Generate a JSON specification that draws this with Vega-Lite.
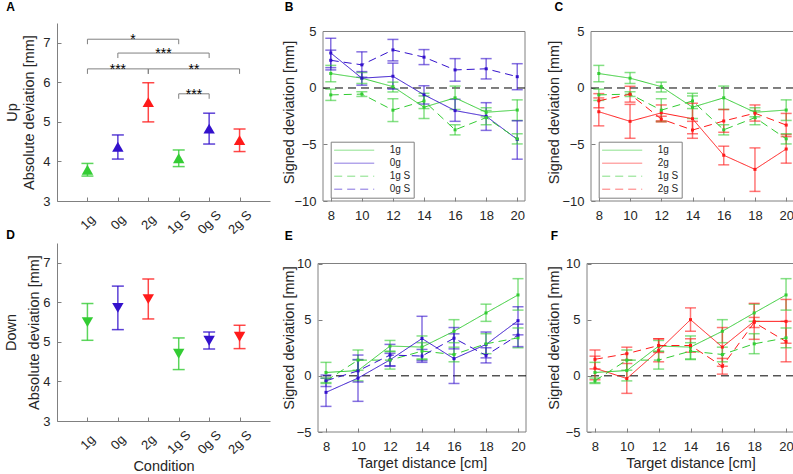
{
"$schema": "https://vega.github.io/schema/vega-lite/v6.json",
"padding": {"left": 2, "top": 0, "right": 0, "bottom": 0},
"config": {
  "font": "Liberation Sans",
  "view": {"stroke": null},
  "axis": {"grid": false, "labelFontSize": 13, "titleFontSize": 14.5, "titleFontWeight": "normal", "labelColor": "#262626", "titleColor": "#262626", "domainColor": "#808080", "tickColor": "#808080", "tickSize": -4, "labelFlush": false, "labelOverlap": false, "labelBound": false, "labelPadding": 12.5},
  "axisY": {"labelPadding": 11},
  "title": {"fontSize": 12, "fontWeight": "bold", "anchor": "start", "frame": "group", "baseline": "alphabetic", "color": "#000000"}
},
"datasets": {
  "abs": [
    {"dir":"Up","cond":"1g","idx":1,"mean":3.79,"lo":3.63,"hi":3.95},
    {"dir":"Up","cond":"0g","idx":2,"mean":4.37,"lo":4.06,"hi":4.67},
    {"dir":"Up","cond":"2g","idx":3,"mean":5.5,"lo":5.0,"hi":5.99},
    {"dir":"Up","cond":"1g S","idx":4,"mean":4.08,"lo":3.87,"hi":4.29},
    {"dir":"Up","cond":"0g S","idx":5,"mean":4.83,"lo":4.44,"hi":5.22},
    {"dir":"Up","cond":"2g S","idx":6,"mean":4.54,"lo":4.25,"hi":4.82},
    {"dir":"Down","cond":"1g","idx":1,"mean":5.5,"lo":5.04,"hi":5.97},
    {"dir":"Down","cond":"0g","idx":2,"mean":5.86,"lo":5.31,"hi":6.41},
    {"dir":"Down","cond":"2g","idx":3,"mean":6.08,"lo":5.58,"hi":6.59},
    {"dir":"Down","cond":"1g S","idx":4,"mean":4.7,"lo":4.3,"hi":5.1},
    {"dir":"Down","cond":"0g S","idx":5,"mean":5.03,"lo":4.82,"hi":5.25},
    {"dir":"Down","cond":"2g S","idx":6,"mean":5.13,"lo":4.83,"hi":5.42}
  ],
  "sig": [
    {"from":1,"to":4,"level":7.09,"stars":"*"},
    {"from":2,"to":5,"level":6.74,"stars":"***"},
    {"from":1,"to":3,"level":6.34,"stars":"***"},
    {"from":3,"to":6,"level":6.34,"stars":"**"},
    {"from":4,"to":5,"level":5.71,"stars":"***"}
  ],
  "signed": [
    {"dir":"Up","cond":"1g","dist":8,"mean":1.28,"lo":0.55,"hi":2.0},
    {"dir":"Up","cond":"1g","dist":10,"mean":0.87,"lo":0.4,"hi":1.37},
    {"dir":"Up","cond":"1g","dist":12,"mean":0.12,"lo":-0.35,"hi":0.52},
    {"dir":"Up","cond":"1g","dist":14,"mean":-1.7,"lo":-2.7,"hi":-0.7},
    {"dir":"Up","cond":"1g","dist":16,"mean":-0.87,"lo":-1.9,"hi":0.17},
    {"dir":"Up","cond":"1g","dist":18,"mean":-2.15,"lo":-2.55,"hi":-1.75},
    {"dir":"Up","cond":"1g","dist":20,"mean":-1.95,"lo":-2.87,"hi":-1.05},
    {"dir":"Up","cond":"0g","dist":8,"mean":3.1,"lo":1.8,"hi":4.4},
    {"dir":"Up","cond":"0g","dist":10,"mean":0.87,"lo":0.25,"hi":1.45},
    {"dir":"Up","cond":"0g","dist":12,"mean":1.04,"lo":-0.1,"hi":2.2},
    {"dir":"Up","cond":"0g","dist":14,"mean":-0.6,"lo":-1.42,"hi":0.2},
    {"dir":"Up","cond":"0g","dist":16,"mean":-2.0,"lo":-2.95,"hi":-1.0},
    {"dir":"Up","cond":"0g","dist":18,"mean":-2.5,"lo":-3.75,"hi":-1.3},
    {"dir":"Up","cond":"0g","dist":20,"mean":-4.55,"lo":-6.3,"hi":-2.9},
    {"dir":"Up","cond":"2g","dist":8,"mean":-2.1,"lo":-3.35,"hi":-0.88},
    {"dir":"Up","cond":"2g","dist":10,"mean":-2.95,"lo":-4.45,"hi":-1.45},
    {"dir":"Up","cond":"2g","dist":12,"mean":-2.2,"lo":-2.9,"hi":-1.5},
    {"dir":"Up","cond":"2g","dist":14,"mean":-2.72,"lo":-4.05,"hi":-1.35},
    {"dir":"Up","cond":"2g","dist":16,"mean":-5.95,"lo":-6.8,"hi":-5.15},
    {"dir":"Up","cond":"2g","dist":18,"mean":-7.2,"lo":-9.15,"hi":-5.3},
    {"dir":"Up","cond":"2g","dist":20,"mean":-5.4,"lo":-6.65,"hi":-4.12},
    {"dir":"Up","cond":"1g S","dist":8,"mean":-0.61,"lo":-1.1,"hi":-0.1},
    {"dir":"Up","cond":"1g S","dist":10,"mean":-0.54,"lo":-0.75,"hi":-0.33},
    {"dir":"Up","cond":"1g S","dist":12,"mean":-1.96,"lo":-2.97,"hi":-0.95},
    {"dir":"Up","cond":"1g S","dist":14,"mean":-1.15,"lo":-1.82,"hi":-0.47},
    {"dir":"Up","cond":"1g S","dist":16,"mean":-3.7,"lo":-4.15,"hi":-3.25},
    {"dir":"Up","cond":"1g S","dist":18,"mean":-2.62,"lo":-3.25,"hi":-2.0},
    {"dir":"Up","cond":"1g S","dist":20,"mean":-4.5,"lo":-4.95,"hi":-4.05},
    {"dir":"Up","cond":"0g S","dist":8,"mean":2.45,"lo":1.6,"hi":3.35},
    {"dir":"Up","cond":"0g S","dist":10,"mean":2.05,"lo":0.95,"hi":3.2},
    {"dir":"Up","cond":"0g S","dist":12,"mean":3.37,"lo":2.4,"hi":4.3},
    {"dir":"Up","cond":"0g S","dist":14,"mean":2.73,"lo":2.07,"hi":3.4},
    {"dir":"Up","cond":"0g S","dist":16,"mean":1.6,"lo":0.6,"hi":2.6},
    {"dir":"Up","cond":"0g S","dist":18,"mean":1.7,"lo":0.8,"hi":2.6},
    {"dir":"Up","cond":"0g S","dist":20,"mean":1.0,"lo":-0.15,"hi":2.15},
    {"dir":"Up","cond":"2g S","dist":8,"mean":-1.13,"lo":-1.75,"hi":-0.5},
    {"dir":"Up","cond":"2g S","dist":10,"mean":-0.55,"lo":-1.25,"hi":0.15},
    {"dir":"Up","cond":"2g S","dist":12,"mean":-2.75,"lo":-3.0,"hi":-2.5},
    {"dir":"Up","cond":"2g S","dist":14,"mean":-3.72,"lo":-4.45,"hi":-2.95},
    {"dir":"Up","cond":"2g S","dist":16,"mean":-2.92,"lo":-3.92,"hi":-1.9},
    {"dir":"Up","cond":"2g S","dist":18,"mean":-2.23,"lo":-2.93,"hi":-1.5},
    {"dir":"Up","cond":"2g S","dist":20,"mean":-3.28,"lo":-4.3,"hi":-2.25},
    {"dir":"Down","cond":"1g","dist":8,"mean":0.3,"lo":-0.6,"hi":1.2},
    {"dir":"Down","cond":"1g","dist":10,"mean":0.47,"lo":-0.45,"hi":1.4},
    {"dir":"Down","cond":"1g","dist":12,"mean":2.65,"lo":2.15,"hi":3.15},
    {"dir":"Down","cond":"1g","dist":14,"mean":2.56,"lo":1.5,"hi":3.55},
    {"dir":"Down","cond":"1g","dist":16,"mean":3.97,"lo":2.95,"hi":5.0},
    {"dir":"Down","cond":"1g","dist":18,"mean":5.6,"lo":4.85,"hi":6.38},
    {"dir":"Down","cond":"1g","dist":20,"mean":7.2,"lo":5.85,"hi":8.65},
    {"dir":"Down","cond":"0g","dist":8,"mean":-1.47,"lo":-2.72,"hi":-0.22},
    {"dir":"Down","cond":"0g","dist":10,"mean":-0.2,"lo":-2.27,"hi":1.85},
    {"dir":"Down","cond":"0g","dist":12,"mean":1.42,"lo":0.85,"hi":2.0},
    {"dir":"Down","cond":"0g","dist":14,"mean":3.32,"lo":1.35,"hi":5.3},
    {"dir":"Down","cond":"0g","dist":16,"mean":1.53,"lo":-0.68,"hi":3.74},
    {"dir":"Down","cond":"0g","dist":18,"mean":2.79,"lo":1.6,"hi":3.9},
    {"dir":"Down","cond":"0g","dist":20,"mean":4.91,"lo":3.65,"hi":6.15},
    {"dir":"Down","cond":"2g","dist":8,"mean":0.68,"lo":-0.35,"hi":1.75},
    {"dir":"Down","cond":"2g","dist":10,"mean":-0.24,"lo":-1.56,"hi":1.1},
    {"dir":"Down","cond":"2g","dist":12,"mean":2.26,"lo":1.25,"hi":3.3},
    {"dir":"Down","cond":"2g","dist":14,"mean":5.0,"lo":3.97,"hi":6.05},
    {"dir":"Down","cond":"2g","dist":16,"mean":2.56,"lo":0.85,"hi":4.3},
    {"dir":"Down","cond":"2g","dist":18,"mean":4.85,"lo":3.25,"hi":6.45},
    {"dir":"Down","cond":"2g","dist":20,"mean":4.85,"lo":2.9,"hi":6.8},
    {"dir":"Down","cond":"1g S","dist":8,"mean":-0.44,"lo":-0.68,"hi":-0.2},
    {"dir":"Down","cond":"1g S","dist":10,"mean":1.4,"lo":0.5,"hi":2.3},
    {"dir":"Down","cond":"1g S","dist":12,"mean":1.4,"lo":0.6,"hi":2.2},
    {"dir":"Down","cond":"1g S","dist":14,"mean":2.2,"lo":1.45,"hi":2.95},
    {"dir":"Down","cond":"1g S","dist":16,"mean":1.9,"lo":1.25,"hi":2.55},
    {"dir":"Down","cond":"1g S","dist":18,"mean":2.85,"lo":1.97,"hi":3.75},
    {"dir":"Down","cond":"1g S","dist":20,"mean":3.38,"lo":2.5,"hi":4.26},
    {"dir":"Down","cond":"0g S","dist":8,"mean":-0.44,"lo":-0.95,"hi":0.07},
    {"dir":"Down","cond":"0g S","dist":10,"mean":0.44,"lo":-0.55,"hi":1.45},
    {"dir":"Down","cond":"0g S","dist":12,"mean":1.85,"lo":0.9,"hi":2.8},
    {"dir":"Down","cond":"0g S","dist":14,"mean":1.76,"lo":1.2,"hi":2.35},
    {"dir":"Down","cond":"0g S","dist":16,"mean":3.35,"lo":2.4,"hi":4.3},
    {"dir":"Down","cond":"0g S","dist":18,"mean":1.82,"lo":1.15,"hi":2.5},
    {"dir":"Down","cond":"0g S","dist":20,"mean":3.62,"lo":2.6,"hi":4.6},
    {"dir":"Down","cond":"2g S","dist":8,"mean":1.47,"lo":0.62,"hi":2.3},
    {"dir":"Down","cond":"2g S","dist":10,"mean":1.97,"lo":1.4,"hi":2.55},
    {"dir":"Down","cond":"2g S","dist":12,"mean":2.7,"lo":2.08,"hi":3.3},
    {"dir":"Down","cond":"2g S","dist":14,"mean":2.7,"lo":2.1,"hi":3.3},
    {"dir":"Down","cond":"2g S","dist":16,"mean":0.85,"lo":0.15,"hi":1.55},
    {"dir":"Down","cond":"2g S","dist":18,"mean":4.75,"lo":4.3,"hi":5.2},
    {"dir":"Down","cond":"2g S","dist":20,"mean":3.05,"lo":1.25,"hi":4.85}
  ]
},
"vconcat": [
 {"hconcat": [
  {
   "title": {"text": "A", "dx": -50.7, "offset": 8.8},
   "width": 213, "height": 178,
   "layer": [
    {"data": {"name": "abs"}, "transform": [{"filter": {"field": "dir", "equal": "Up"}}],
     "encoding": {
        "x": {"field": "idx", "type": "quantitative", "scale": {"domain": [0, 7], "nice": false, "zero": false}, "axis": {"values": [1,2,3,4,5,6], "labelExpr": "['','1g','0g','2g','1g S','0g S','2g S'][datum.value]", "labelAngle": -45, "labelAlign": "center", "labelBaseline": "middle", "labelPadding": 25, "labelOverlap": false, "title": null}},
        "color": {"field": "cond", "type": "nominal", "scale": {"domain": ["1g","0g","2g","1g S","0g S","2g S"], "range": ["#33cc33","#3311cc","#ff1a1a","#33cc33","#3311cc","#ff1a1a"]}, "legend": null}},
     "layer": [
      {"mark": {"type": "rule", "strokeWidth": 1.5, "opacity": 0.8},
       "encoding": {
        "y": {"field": "lo", "type": "quantitative", "scale": {"domain": [3, 7.5], "nice": false, "zero": false}, "axis": {"values": [3,4,5,6,7], "labelOverlap": false, "title": ["Up", "Absolute deviation [mm]"], "titleX": -38, "titleLineHeight": 17.3}},
        "y2": {"field": "hi"}}},
      {"mark": {"type": "tick", "orient": "horizontal", "size": 12, "thickness": 1.5, "opacity": 0.8},
       "encoding": {"y": {"field": "lo", "type": "quantitative"}}},
      {"mark": {"type": "tick", "orient": "horizontal", "size": 12, "thickness": 1.5, "opacity": 0.8},
       "encoding": {"y": {"field": "hi", "type": "quantitative"}}},
      {"mark": {"type": "point", "shape": "triangle-up", "size": 130, "filled": true, "opacity": 1},
       "encoding": {"y": {"field": "mean", "type": "quantitative"}}}
     ]},
    {"data": {"name": "sig"},
     "layer": [
      {"mark": {"type": "rule", "color": "#808080", "strokeWidth": 1},
       "encoding": {"x": {"field": "from", "type": "quantitative"}, "x2": {"field": "to"}, "y": {"field": "level", "type": "quantitative"}}},
      {"mark": {"type": "rule", "color": "#808080", "strokeWidth": 1, "y2Offset": 5},
       "encoding": {"x": {"field": "from", "type": "quantitative"}, "y": {"field": "level", "type": "quantitative"}, "y2": {"field": "level"}}},
      {"mark": {"type": "rule", "color": "#808080", "strokeWidth": 1, "y2Offset": 5},
       "encoding": {"x": {"field": "to", "type": "quantitative"}, "y": {"field": "level", "type": "quantitative"}, "y2": {"field": "level"}}},
      {"transform": [{"calculate": "(datum.from + datum.to) / 2", "as": "mid"}],
       "mark": {"type": "text", "fontSize": 14, "baseline": "alphabetic", "dy": 5, "color": "#000000"},
       "encoding": {"x": {"field": "mid", "type": "quantitative"}, "y": {"field": "level", "type": "quantitative"}, "text": {"field": "stars"}}}
     ]}
   ]
  },
  {"hconcat": [
   {
    "title": {"text": "B", "dx": -38.3, "offset": 9.0},
    "width": 202, "height": 178,
    "layer": [
     {"data": {"values": [{}]}, "mark": {"type": "rect", "fillOpacity": 0, "stroke": "#808080", "strokeWidth": 1},
      "encoding": {
       "x": {"datum": 7.5, "type": "quantitative", "scale": {"domain": [7.5, 20.5], "nice": false, "zero": false}, "axis": {"values": [8,10,12,14,16,18,20], "labelOverlap": false, "domain": false, "title": null}},
       "x2": {"datum": 20.5},
       "y": {"datum": -10, "type": "quantitative", "scale": {"domain": [-10, 5.752], "nice": false, "zero": false}, "axis": {"values": [-10,-5,0,5], "labelOverlap": false, "domain": false, "title": "Signed deviation [mm]", "titleX": -26.7}},
       "y2": {"datum": 5}}},
     {"data": {"values": [{}]}, "mark": {"type": "rule", "color": "#000000", "strokeDash": [8, 5], "strokeWidth": 1},
      "encoding": {"y": {"datum": 0, "type": "quantitative", "axis": {"values": [-10,-5,0,5], "labelOverlap": false, "domain": false, "title": "Signed deviation [mm]", "titleX": -26.7}}}},
     {"data": {"name": "signed"}, "transform": [{"filter": {"field": "dir", "equal": "Up"}}, {"filter": {"field": "cond", "oneOf": ["1g","0g","1g S","0g S"]}}],
      "encoding": {
        "x": {"field": "dist", "type": "quantitative", "scale": {"domain": [7.5, 20.5], "nice": false, "zero": false}, "axis": {"values": [8,10,12,14,16,18,20], "labelOverlap": false, "domain": false, "title": null}},
        "color": {"field": "cond", "type": "nominal", "scale": {"domain": ["1g","0g","1g S","0g S"], "range": ["#33cc33","#3311cc","#33cc33","#3311cc"]},
          "legend": {"orient": "none", "legendX": 7.7, "legendY": 118.7, "title": null, "symbolType": "M-4,0H4", "symbolSize": 100, "symbolOffset": 15, "labelOffset": 30, "symbolStrokeWidth": 1, "labelFontSize": 10, "labelColor": "#262626", "padding": 3, "strokeColor": "#808080", "fillColor": "#ffffff", "rowPadding": 2}}},
      "layer": [
       {"mark": {"type": "rule", "strokeWidth": 1.5, "opacity": 0.6},
        "encoding": {"y": {"field": "lo", "type": "quantitative", "scale": {"domain": [-10, 5.752], "nice": false, "zero": false}, "axis": {"values": [-10,-5,0,5], "labelOverlap": false, "domain": false, "title": "Signed deviation [mm]", "titleX": -26.7}}, "y2": {"field": "hi"}}},
       {"mark": {"type": "tick", "orient": "horizontal", "size": 11, "thickness": 1.5, "opacity": 0.6},
        "encoding": {"y": {"field": "lo", "type": "quantitative", "axis": {"values": [-10,-5,0,5], "labelOverlap": false, "domain": false, "title": "Signed deviation [mm]", "titleX": -26.7}}}},
       {"mark": {"type": "tick", "orient": "horizontal", "size": 11, "thickness": 1.5, "opacity": 0.6},
        "encoding": {"y": {"field": "hi", "type": "quantitative", "axis": {"values": [-10,-5,0,5], "labelOverlap": false, "domain": false, "title": "Signed deviation [mm]", "titleX": -26.7}}}},
       {"mark": {"type": "line", "strokeWidth": 1},
        "encoding": {
         "y": {"field": "mean", "type": "quantitative", "axis": {"values": [-10,-5,0,5], "labelOverlap": false, "domain": false, "title": "Signed deviation [mm]", "titleX": -26.7}},
         "strokeDash": {"field": "cond", "type": "nominal", "scale": {"domain": ["1g","0g","1g S","0g S"], "range": [[1,0],[1,0],[8,5],[8,5]]},
          "legend": {"orient": "none", "legendX": 7.7, "legendY": 118.7, "title": null, "symbolType": "M-4,0H4", "symbolSize": 100, "symbolOffset": 15, "labelOffset": 30, "symbolStrokeWidth": 1, "labelFontSize": 10, "labelColor": "#262626", "padding": 3, "strokeColor": "#808080", "fillColor": "#ffffff", "rowPadding": 2}}}},
       {"mark": {"type": "point", "shape": "square", "size": 9, "filled": true, "opacity": 1},
        "encoding": {"y": {"field": "mean", "type": "quantitative", "axis": {"values": [-10,-5,0,5], "labelOverlap": false, "domain": false, "title": "Signed deviation [mm]", "titleX": -26.7}}}}
      ]}
    ]
   },
   {
    "title": {"text": "C", "dx": -36.6, "offset": 9.3},
    "width": 203, "height": 178,
    "layer": [
     {"data": {"values": [{}]}, "mark": {"type": "rect", "fillOpacity": 0, "stroke": "#808080", "strokeWidth": 1},
      "encoding": {
       "x": {"datum": 7.5, "type": "quantitative", "scale": {"domain": [7.5, 20.5], "nice": false, "zero": false}, "axis": {"values": [8,10,12,14,16,18,20], "labelOverlap": false, "domain": false, "title": null}},
       "x2": {"datum": 20.5},
       "y": {"datum": -10, "type": "quantitative", "scale": {"domain": [-10, 5.752], "nice": false, "zero": false}, "axis": {"values": [-10,-5,0,5], "labelOverlap": false, "domain": false, "title": "Signed deviation [mm]", "titleX": -29.3}},
       "y2": {"datum": 5}}},
     {"data": {"values": [{}]}, "mark": {"type": "rule", "color": "#000000", "strokeDash": [8, 5], "strokeWidth": 1},
      "encoding": {"y": {"datum": 0, "type": "quantitative", "axis": {"values": [-10,-5,0,5], "labelOverlap": false, "domain": false, "title": "Signed deviation [mm]", "titleX": -29.3}}}},
     {"data": {"name": "signed"}, "transform": [{"filter": {"field": "dir", "equal": "Up"}}, {"filter": {"field": "cond", "oneOf": ["1g","2g","1g S","2g S"]}}],
      "encoding": {
        "x": {"field": "dist", "type": "quantitative", "scale": {"domain": [7.5, 20.5], "nice": false, "zero": false}, "axis": {"values": [8,10,12,14,16,18,20], "labelOverlap": false, "domain": false, "title": null}},
        "color": {"field": "cond", "type": "nominal", "scale": {"domain": ["1g","2g","1g S","2g S"], "range": ["#33cc33","#ff1a1a","#33cc33","#ff1a1a"]},
          "legend": {"orient": "none", "legendX": 7.7, "legendY": 118.7, "title": null, "symbolType": "M-4,0H4", "symbolSize": 100, "symbolOffset": 15, "labelOffset": 30, "symbolStrokeWidth": 1, "labelFontSize": 10, "labelColor": "#262626", "padding": 3, "strokeColor": "#808080", "fillColor": "#ffffff", "rowPadding": 2}}},
      "layer": [
       {"mark": {"type": "rule", "strokeWidth": 1.5, "opacity": 0.6},
        "encoding": {"y": {"field": "lo", "type": "quantitative", "scale": {"domain": [-10, 5.752], "nice": false, "zero": false}, "axis": {"values": [-10,-5,0,5], "labelOverlap": false, "domain": false, "title": "Signed deviation [mm]", "titleX": -29.3}}, "y2": {"field": "hi"}}},
       {"mark": {"type": "tick", "orient": "horizontal", "size": 11, "thickness": 1.5, "opacity": 0.6},
        "encoding": {"y": {"field": "lo", "type": "quantitative", "axis": {"values": [-10,-5,0,5], "labelOverlap": false, "domain": false, "title": "Signed deviation [mm]", "titleX": -29.3}}}},
       {"mark": {"type": "tick", "orient": "horizontal", "size": 11, "thickness": 1.5, "opacity": 0.6},
        "encoding": {"y": {"field": "hi", "type": "quantitative", "axis": {"values": [-10,-5,0,5], "labelOverlap": false, "domain": false, "title": "Signed deviation [mm]", "titleX": -29.3}}}},
       {"mark": {"type": "line", "strokeWidth": 1},
        "encoding": {
         "y": {"field": "mean", "type": "quantitative", "axis": {"values": [-10,-5,0,5], "labelOverlap": false, "domain": false, "title": "Signed deviation [mm]", "titleX": -29.3}},
         "strokeDash": {"field": "cond", "type": "nominal", "scale": {"domain": ["1g","2g","1g S","2g S"], "range": [[1,0],[1,0],[8,5],[8,5]]},
          "legend": {"orient": "none", "legendX": 7.7, "legendY": 118.7, "title": null, "symbolType": "M-4,0H4", "symbolSize": 100, "symbolOffset": 15, "labelOffset": 30, "symbolStrokeWidth": 1, "labelFontSize": 10, "labelColor": "#262626", "padding": 3, "strokeColor": "#808080", "fillColor": "#ffffff", "rowPadding": 2}}}},
       {"mark": {"type": "point", "shape": "square", "size": 9, "filled": true, "opacity": 1},
        "encoding": {"y": {"field": "mean", "type": "quantitative", "axis": {"values": [-10,-5,0,5], "labelOverlap": false, "domain": false, "title": "Signed deviation [mm]", "titleX": -29.3}}}}
      ]}
    ]
   }
  ], "spacing": 66, "bounds": "flush", "align": "none",
  "resolve": {"scale": {"x": "independent", "y": "independent", "color": "independent", "strokeDash": "independent"}, "legend": {"color": "independent", "strokeDash": "independent"}}}
 ], "spacing": 53, "bounds": "flush", "align": "none",
 "resolve": {"scale": {"x": "independent", "y": "independent", "color": "independent", "strokeDash": "independent"}, "legend": {"color": "independent", "strokeDash": "independent"}}},
 {"hconcat": [
  {
   "title": {"text": "D", "dx": -50.7, "offset": 1.5},
   "width": 213, "height": 178,
   "layer": [
    {"data": {"name": "abs"}, "transform": [{"filter": {"field": "dir", "equal": "Down"}}],
     "encoding": {
        "x": {"field": "idx", "type": "quantitative", "scale": {"domain": [0, 7], "nice": false, "zero": false}, "axis": {"values": [1,2,3,4,5,6], "labelExpr": "['','1g','0g','2g','1g S','0g S','2g S'][datum.value]", "labelAngle": -45, "labelAlign": "center", "labelBaseline": "middle", "labelPadding": 25, "labelOverlap": false, "title": "Condition", "titleY": 38}},
        "color": {"field": "cond", "type": "nominal", "scale": {"domain": ["1g","0g","2g","1g S","0g S","2g S"], "range": ["#33cc33","#3311cc","#ff1a1a","#33cc33","#3311cc","#ff1a1a"]}, "legend": null}},
     "layer": [
      {"mark": {"type": "rule", "strokeWidth": 1.5, "opacity": 0.8},
       "encoding": {
        "y": {"field": "lo", "type": "quantitative", "scale": {"domain": [3, 7.5], "nice": false, "zero": false}, "axis": {"values": [3,4,5,6,7], "labelOverlap": false, "title": ["Down", "Absolute deviation [mm]"], "titleX": -39, "titleLineHeight": 23}},
        "y2": {"field": "hi"}}},
      {"mark": {"type": "tick", "orient": "horizontal", "size": 12, "thickness": 1.5, "opacity": 0.8},
       "encoding": {"y": {"field": "lo", "type": "quantitative"}}},
      {"mark": {"type": "tick", "orient": "horizontal", "size": 12, "thickness": 1.5, "opacity": 0.8},
       "encoding": {"y": {"field": "hi", "type": "quantitative"}}},
      {"mark": {"type": "point", "shape": "triangle-down", "size": 130, "filled": true, "opacity": 1},
       "encoding": {"y": {"field": "mean", "type": "quantitative"}}}
     ]}
   ]
  },
  {"hconcat": [
   {
    "title": {"text": "E", "dx": -33.3, "offset": 0.5},
    "width": 208, "height": 189,
    "layer": [
     {"data": {"values": [{}]}, "mark": {"type": "rect", "fillOpacity": 0, "stroke": "#808080", "strokeWidth": 1},
      "encoding": {
       "x": {"datum": 7.5, "type": "quantitative", "scale": {"domain": [7.5, 20.5], "nice": false, "zero": false}, "axis": {"values": [8,10,12,14,16,18,20], "labelOverlap": false, "domain": false, "title": "Target distance [cm]", "titleY": 24}},
       "x2": {"datum": 20.5},
       "y": {"datum": -5, "type": "quantitative", "scale": {"domain": [-5, 11.825], "nice": false, "zero": false}, "axis": {"values": [-5,0,5,10], "labelOverlap": false, "domain": false, "title": "Signed deviation [mm]", "titleX": -21.7}},
       "y2": {"datum": 10}}},
     {"data": {"values": [{}]}, "mark": {"type": "rule", "color": "#000000", "strokeDash": [8, 5], "strokeWidth": 1},
      "encoding": {"y": {"datum": 0, "type": "quantitative", "axis": {"values": [-5,0,5,10], "labelOverlap": false, "domain": false, "title": "Signed deviation [mm]", "titleX": -21.7}}}},
     {"data": {"name": "signed"}, "transform": [{"filter": {"field": "dir", "equal": "Down"}}, {"filter": {"field": "cond", "oneOf": ["1g","0g","1g S","0g S"]}}],
      "encoding": {
        "x": {"field": "dist", "type": "quantitative", "scale": {"domain": [7.5, 20.5], "nice": false, "zero": false}, "axis": {"values": [8,10,12,14,16,18,20], "labelOverlap": false, "domain": false, "title": "Target distance [cm]", "titleY": 24}},
        "color": {"field": "cond", "type": "nominal", "scale": {"domain": ["1g","0g","1g S","0g S"], "range": ["#33cc33","#3311cc","#33cc33","#3311cc"]}, "legend": null}},
      "layer": [
       {"mark": {"type": "rule", "strokeWidth": 1.5, "opacity": 0.6},
        "encoding": {"y": {"field": "lo", "type": "quantitative", "scale": {"domain": [-5, 11.825], "nice": false, "zero": false}, "axis": {"values": [-5,0,5,10], "labelOverlap": false, "domain": false, "title": "Signed deviation [mm]", "titleX": -21.7}}, "y2": {"field": "hi"}}},
       {"mark": {"type": "tick", "orient": "horizontal", "size": 11, "thickness": 1.5, "opacity": 0.6},
        "encoding": {"y": {"field": "lo", "type": "quantitative", "axis": {"values": [-5,0,5,10], "labelOverlap": false, "domain": false, "title": "Signed deviation [mm]", "titleX": -21.7}}}},
       {"mark": {"type": "tick", "orient": "horizontal", "size": 11, "thickness": 1.5, "opacity": 0.6},
        "encoding": {"y": {"field": "hi", "type": "quantitative", "axis": {"values": [-5,0,5,10], "labelOverlap": false, "domain": false, "title": "Signed deviation [mm]", "titleX": -21.7}}}},
       {"mark": {"type": "line", "strokeWidth": 1},
        "encoding": {
         "y": {"field": "mean", "type": "quantitative", "axis": {"values": [-5,0,5,10], "labelOverlap": false, "domain": false, "title": "Signed deviation [mm]", "titleX": -21.7}},
         "strokeDash": {"field": "cond", "type": "nominal", "scale": {"domain": ["1g","0g","1g S","0g S"], "range": [[1,0],[1,0],[8,5],[8,5]]}, "legend": null}}},
       {"mark": {"type": "point", "shape": "square", "size": 9, "filled": true, "opacity": 1},
        "encoding": {"y": {"field": "mean", "type": "quantitative", "axis": {"values": [-5,0,5,10], "labelOverlap": false, "domain": false, "title": "Signed deviation [mm]", "titleX": -21.7}}}}
      ]}
    ]
   },
   {
    "title": {"text": "F", "dx": -36.2, "offset": 0.5},
    "width": 207, "height": 189,
    "layer": [
     {"data": {"values": [{}]}, "mark": {"type": "rect", "fillOpacity": 0, "stroke": "#808080", "strokeWidth": 1},
      "encoding": {
       "x": {"datum": 7.5, "type": "quantitative", "scale": {"domain": [7.5, 20.5], "nice": false, "zero": false}, "axis": {"values": [8,10,12,14,16,18,20], "labelOverlap": false, "domain": false, "title": "Target distance [cm]", "titleY": 24}},
       "x2": {"datum": 20.5},
       "y": {"datum": -5, "type": "quantitative", "scale": {"domain": [-5, 11.825], "nice": false, "zero": false}, "axis": {"values": [-5,0,5,10], "labelOverlap": false, "domain": false, "title": "Signed deviation [mm]", "titleX": -25.2}},
       "y2": {"datum": 10}}},
     {"data": {"values": [{}]}, "mark": {"type": "rule", "color": "#000000", "strokeDash": [8, 5], "strokeWidth": 1},
      "encoding": {"y": {"datum": 0, "type": "quantitative", "axis": {"values": [-5,0,5,10], "labelOverlap": false, "domain": false, "title": "Signed deviation [mm]", "titleX": -25.2}}}},
     {"data": {"name": "signed"}, "transform": [{"filter": {"field": "dir", "equal": "Down"}}, {"filter": {"field": "cond", "oneOf": ["1g","2g","1g S","2g S"]}}],
      "encoding": {
        "x": {"field": "dist", "type": "quantitative", "scale": {"domain": [7.5, 20.5], "nice": false, "zero": false}, "axis": {"values": [8,10,12,14,16,18,20], "labelOverlap": false, "domain": false, "title": "Target distance [cm]", "titleY": 24}},
        "color": {"field": "cond", "type": "nominal", "scale": {"domain": ["1g","2g","1g S","2g S"], "range": ["#33cc33","#ff1a1a","#33cc33","#ff1a1a"]}, "legend": null}},
      "layer": [
       {"mark": {"type": "rule", "strokeWidth": 1.5, "opacity": 0.6},
        "encoding": {"y": {"field": "lo", "type": "quantitative", "scale": {"domain": [-5, 11.825], "nice": false, "zero": false}, "axis": {"values": [-5,0,5,10], "labelOverlap": false, "domain": false, "title": "Signed deviation [mm]", "titleX": -25.2}}, "y2": {"field": "hi"}}},
       {"mark": {"type": "tick", "orient": "horizontal", "size": 11, "thickness": 1.5, "opacity": 0.6},
        "encoding": {"y": {"field": "lo", "type": "quantitative", "axis": {"values": [-5,0,5,10], "labelOverlap": false, "domain": false, "title": "Signed deviation [mm]", "titleX": -25.2}}}},
       {"mark": {"type": "tick", "orient": "horizontal", "size": 11, "thickness": 1.5, "opacity": 0.6},
        "encoding": {"y": {"field": "hi", "type": "quantitative", "axis": {"values": [-5,0,5,10], "labelOverlap": false, "domain": false, "title": "Signed deviation [mm]", "titleX": -25.2}}}},
       {"mark": {"type": "line", "strokeWidth": 1},
        "encoding": {
         "y": {"field": "mean", "type": "quantitative", "axis": {"values": [-5,0,5,10], "labelOverlap": false, "domain": false, "title": "Signed deviation [mm]", "titleX": -25.2}},
         "strokeDash": {"field": "cond", "type": "nominal", "scale": {"domain": ["1g","2g","1g S","2g S"], "range": [[1,0],[1,0],[8,5],[8,5]]}, "legend": null}}},
       {"mark": {"type": "point", "shape": "square", "size": 9, "filled": true, "opacity": 1},
        "encoding": {"y": {"field": "mean", "type": "quantitative", "axis": {"values": [-5,0,5,10], "labelOverlap": false, "domain": false, "title": "Signed deviation [mm]", "titleX": -25.2}}}}
      ]}
    ]
   }
  ], "spacing": 61, "bounds": "flush", "align": "none",
  "resolve": {"scale": {"x": "independent", "y": "independent", "color": "independent", "strokeDash": "independent"}, "legend": {"color": "independent", "strokeDash": "independent"}}}
 ], "spacing": 48, "bounds": "flush", "align": "none",
 "resolve": {"scale": {"x": "independent", "y": "independent", "color": "independent", "strokeDash": "independent"}, "legend": {"color": "independent", "strokeDash": "independent"}}}
],
"spacing": -9, "bounds": "full", "align": "none",
"resolve": {"scale": {"x": "independent", "y": "independent", "color": "independent", "strokeDash": "independent"}, "legend": {"color": "independent", "strokeDash": "independent"}}
}
